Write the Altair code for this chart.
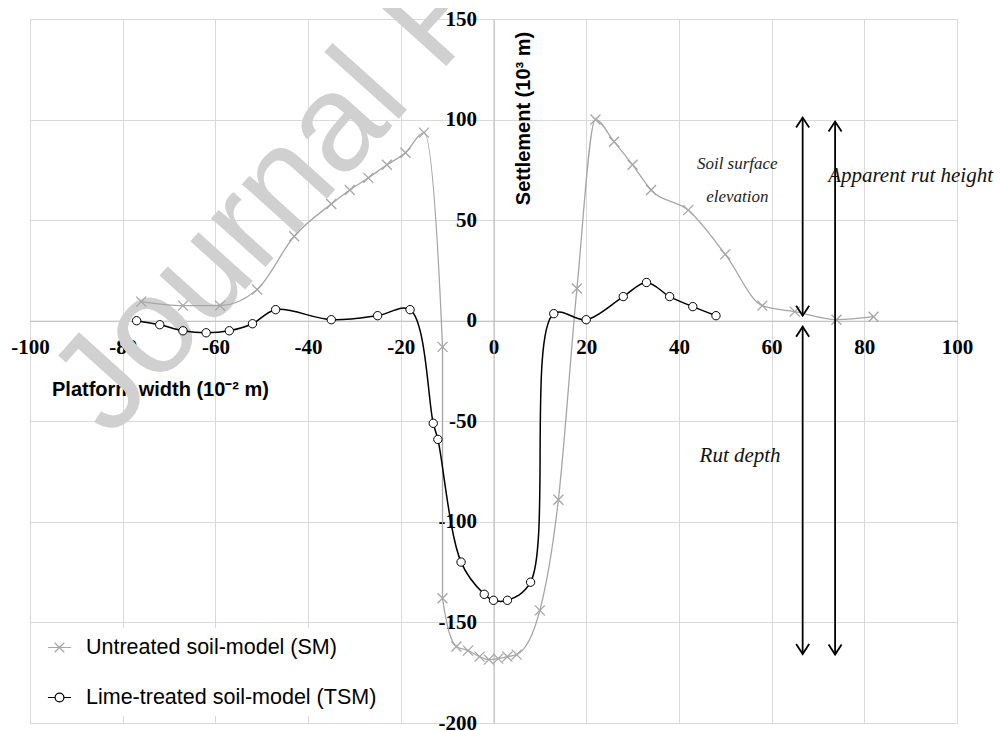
import altair as alt
import pandas as pd

# ---------------- data ----------------
series_names = ["Untreated soil-model (SM)", "Lime-treated soil-model (TSM)"]

sm_x = [-76, -67, -59, -51, -43, -35, -31, -27, -23, -19, -15, -11, -11, -8, -5.5, -3, -1,
        1, 3, 5, 10, 14, 18, 22, 26, 30, 34, 42, 50, 58, 65, 74, 82]
sm_y = [9.5, 7.5, 7.5, 15.5, 42, 58, 65, 71, 77.5, 83.5, 93.5, -13, -138, -162, -164, -167, -168.5,
        -168, -167, -166, -144, -89, 16, 100, 89, 77.5, 65, 55, 33, 7.5, 4.5, 0.5, 2]

tsm_x = [-77, -72, -67, -62, -57, -52, -47, -35, -25, -18, -13, -12, -7, -2, 0, 3, 8,
         13, 20, 28, 33, 38, 43, 48]
tsm_y = [0, -2, -5, -6, -5, -1.5, 5.5, 0.5, 2.5, 5.5, -51, -59, -120, -136, -139, -139, -130,
         3.5, 0.5, 12, 19, 12, 7, 2.5]

x_ticks = [-100, -80, -60, -40, -20, 0, 20, 40, 60, 80, 100]
y_ticks = [150, 100, 50, 0, -50, -100, -150, -200]

# annotation arrows (data units)
arrow_x = [66.7, 66.7, 73.7]
arrow_top = [101, -3, 99]
arrow_bottom = [2.5, -165.7, -166]

soil_text = ["Soil surface", "elevation"]
soil_x = [52.6, 52.6]
soil_y = [77.9, 61.4]
rut_h_text = ["Apparent rut height"]
rut_h_x = [72.2]
rut_h_y = [72.1]
rut_d_text = ["Rut depth"]
rut_d_x = [53.2]
rut_d_y = [-67.1]

watermark_text = ["Journal Pre-proof"]
watermark_x = [-82.7]
watermark_y = [-59.0]

# ---------------- frames ----------------
sm = pd.DataFrame({"x": sm_x, "y": sm_y, "i": range(len(sm_x))})
tsm = pd.DataFrame({"x": tsm_x, "y": tsm_y, "i": range(len(tsm_x))})
legend_df = pd.DataFrame({"x": [sm_x[0], tsm_x[0]], "y": [sm_y[0], tsm_y[0]], "series": series_names})
arrows = pd.DataFrame({"x": arrow_x, "y": arrow_top, "y2": arrow_bottom})
heads_down = pd.DataFrame({"x": arrow_x, "y": arrow_bottom})
soil_df = pd.DataFrame({"x": soil_x, "y": soil_y, "t": soil_text})
rut_h_df = pd.DataFrame({"x": rut_h_x, "y": rut_h_y, "t": rut_h_text})
rut_d_df = pd.DataFrame({"x": rut_d_x, "y": rut_d_y, "t": rut_d_text})
wm_df = pd.DataFrame({"x": watermark_x, "y": watermark_y, "t": watermark_text})

W, H = 927, 704
x_scale = alt.Scale(domain=[-100, 100], nice=False, zero=False)
y_scale = alt.Scale(domain=[-200, 150], nice=False, zero=False)

x_axis = alt.Axis(
    values=x_ticks, offset=-H * 200 / 350, grid=True, gridColor="#d9d9d9", gridWidth=1,
    ticks=False, domainColor="#bdbdbd", domainWidth=1,
    labelFont="Liberation Serif", labelFontWeight="bold", labelFontSize=21, labelColor="black",
    labelPadding=16, labelOverlap=False, labelFlush=False, labelExpr="datum.value + ''",
    title="Platform width (10\u207b\u00b2 m)", titleFont="Liberation Sans", titleFontSize=20,
    titleFontWeight="bold", titleColor="black", titleX=130, titleY=69,
    titleAlign="center", titleBaseline="middle", titleAnchor="start",
)
y_axis = alt.Axis(
    values=y_ticks, offset=-W * 100 / 200, grid=True, gridColor="#d9d9d9", gridWidth=1,
    ticks=False, domainColor="#bdbdbd", domainWidth=1,
    labelFont="Liberation Serif", labelFontWeight="bold", labelFontSize=21, labelColor="black",
    labelPadding=17, labelOverlap=False, labelFlush=False, labelBaseline="middle",
    labelExpr="datum.value + ''",
    title="Settlement (10\u00b3 m)", titleFont="Liberation Sans", titleFontSize=20,
    titleFontWeight="bold", titleColor="black", titleX=30, titleY=99, titleAngle=270,
    titleAlign="center", titleBaseline="middle",
)

X0 = alt.X("x:Q", scale=x_scale, axis=x_axis)
Y0 = alt.Y("y:Q", scale=y_scale, axis=y_axis)

watermark = alt.Chart(wm_df).mark_text(
    angle=312, fontSize=138, font="Liberation Sans", color="#d0d0d0",
    align="left", baseline="alphabetic"
).encode(x=X0, y=Y0, text="t:N")

SM_GRAY = "#a6a6a6"
x_path = "M-1,-1L1,1M-1,1L1,-1"

sm_line = alt.Chart(sm).mark_line(interpolate="monotone", color=SM_GRAY,
                                  strokeWidth=1.3).encode(x=X0, y=Y0, order="i:Q")
sm_pts = alt.Chart(sm).mark_point(shape=x_path, size=100, color=SM_GRAY, strokeWidth=1.3,
                                  filled=False, opacity=1).encode(x=X0, y=Y0)
tsm_line = alt.Chart(tsm).mark_line(interpolate="catmull-rom", color="black",
                                    strokeWidth=1.5).encode(x=X0, y=Y0, order="i:Q")
tsm_pts = alt.Chart(tsm).mark_point(shape="circle", size=70, stroke="black", fill="white",
                                    strokeWidth=1, filled=True, opacity=1).encode(x=X0, y=Y0)

sm_leg_path = "M-1.1,0L1.1,0M-0.45,-0.45L0.45,0.45M-0.45,0.45L0.45,-0.45"
tsm_leg_path = ("M-1.1,0L-0.42,0M0.42,0L1.1,0M0.42,0A0.42,0.42 0 1,1 -0.42,0"
                "A0.42,0.42 0 1,1 0.42,0")

legend_layer = alt.Chart(legend_df).mark_point(filled=False, opacity=0).encode(
    x=X0, y=Y0,
    color=alt.Color("series:N", scale=alt.Scale(domain=series_names, range=[SM_GRAY, "black"]),
                    legend=alt.Legend(
                        title=None, orient="none", legendX=10, legendY=609,
                        fillColor="white", padding=8, rowPadding=28,
                        labelFont="Liberation Sans", labelFontSize=21.5, labelColor="black",
                        labelLimit=500, labelOffset=15, symbolSize=441, symbolStrokeWidth=1.2,
                        symbolOpacity=1, direction="vertical")),
    shape=alt.Shape("series:N", scale=alt.Scale(domain=series_names,
                                                range=[sm_leg_path, tsm_leg_path])),
)

arrow_rules = alt.Chart(arrows).mark_rule(color="black", strokeWidth=1.8).encode(
    x=X0, y=Y0, y2="y2:Q")
up_heads = alt.Chart(arrows).mark_point(shape="M-0.65,1L0,0L0.65,1", size=400, color="black",
                                        strokeWidth=1.8, filled=False, opacity=1).encode(x=X0, y=Y0)
down_heads = alt.Chart(heads_down).mark_point(shape="M-0.65,-1L0,0L0.65,-1", size=400,
                                              color="black", strokeWidth=1.8, filled=False,
                                              opacity=1).encode(x=X0, y=Y0)

soil_txt = alt.Chart(soil_df).mark_text(font="Liberation Serif", fontStyle="italic", fontSize=17,
                                        color="#222222", align="center", baseline="middle").encode(
    x=X0, y=Y0, text="t:N")
rut_h_txt = alt.Chart(rut_h_df).mark_text(font="Liberation Serif", fontStyle="italic", fontSize=21,
                                          color="#111111", align="left", baseline="middle").encode(
    x=X0, y=Y0, text="t:N")
rut_d_txt = alt.Chart(rut_d_df).mark_text(font="Liberation Serif", fontStyle="italic", fontSize=21,
                                          color="#111111", align="center", baseline="middle").encode(
    x=X0, y=Y0, text="t:N")

chart = alt.layer(
    watermark, sm_line, tsm_line, sm_pts, tsm_pts, legend_layer,
    arrow_rules, up_heads, down_heads, soil_txt, rut_h_txt, rut_d_txt
).properties(
    width=W, height=H,
    autosize=alt.AutoSizeParams(type="none"),
    padding={"left": 22, "top": 11, "right": 37, "bottom": 16},
).configure_view(stroke=None).configure(background="white")

chart.save("out.html", embed_options={"renderer": "svg", "actions": False})
